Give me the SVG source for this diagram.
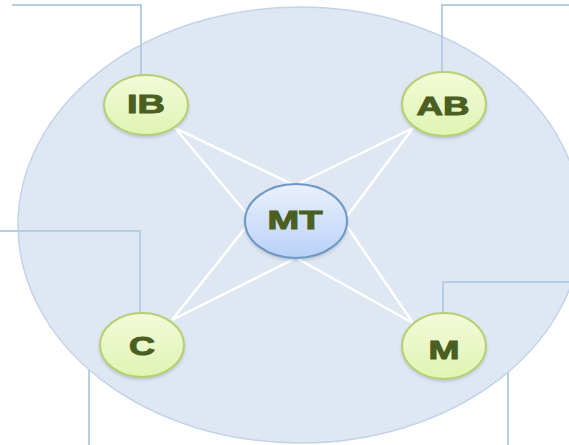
<svg xmlns="http://www.w3.org/2000/svg" width="569" height="445" viewBox="0 0 569 445">
<style>
.bg{fill:#dfe7f2;stroke:#c3d3e8;stroke-width:1.5}
.tie{fill:none;stroke:#b8cce4;stroke-width:2}
.spoke{fill:none;stroke:#ffffff;stroke-width:2.5}
.leaf{fill:url(#gLeaf);stroke:#b5cf72;stroke-width:2;filter:url(#sh)}
.hub{fill:url(#gHub);stroke:#6e98c8;stroke-width:2;filter:url(#sh)}
.lbl{font-family:"Liberation Sans",Arial,sans-serif;font-weight:bold;font-size:26px;fill:#4b5f23;stroke:#4b5f23;stroke-width:1;text-anchor:middle}
</style>
<defs>
<linearGradient id="gLeaf" x1="0" y1="0" x2="0" y2="1">
<stop offset="0" stop-color="#f3fad9"/>
<stop offset="1" stop-color="#e0f4b2"/>
</linearGradient>
<linearGradient id="gHub" x1="0" y1="0" x2="0" y2="1">
<stop offset="0" stop-color="#eaf1fd"/>
<stop offset="1" stop-color="#b9d1f6"/>
</linearGradient>
<filter id="sh" x="-20%" y="-20%" width="140%" height="150%">
<feDropShadow dx="0" dy="2" stdDeviation="1.5" flood-color="#7a8aa0" flood-opacity="0.35"/>
</filter>
</defs>
<ellipse class="bg" cx="300" cy="225" rx="282" ry="218"/>
<g id="connectors">
<path class="tie" d="M12,5 H141 V75"/>
<path class="tie" d="M569,5 H442 V72"/>
<path class="tie" d="M0,231 H140 V313"/>
<path class="tie" d="M89,370 V445"/>
<path class="tie" d="M443,313 V282 H569"/>
<path class="tie" d="M508,372 V445"/>
<path class="spoke" d="M175,128 L296,186 M175,128 L252,220"/>
<path class="spoke" d="M413,128 L300,183 M413,128 L345,219"/>
<path class="spoke" d="M172,320 L292,260 M172,320 L250,222"/>
<path class="spoke" d="M413,323 L298,259 M413,323 L344,222"/>
</g>
<g id="IB"><ellipse class="leaf" cx="146" cy="105" rx="42" ry="30"/><text class="lbl" x="146" y="113" textLength="38" lengthAdjust="spacingAndGlyphs">IB</text></g>
<g id="AB"><ellipse class="leaf" cx="444" cy="104" rx="42" ry="32"/><text class="lbl" x="443" y="115" textLength="53" lengthAdjust="spacingAndGlyphs">AB</text></g>
<g id="C"><ellipse class="leaf" cx="142" cy="345" rx="42" ry="32"/><text class="lbl" x="142" y="355" textLength="26" lengthAdjust="spacingAndGlyphs">C</text></g>
<g id="M"><ellipse class="leaf" cx="444" cy="346" rx="42" ry="33"/><text class="lbl" x="444" y="359" textLength="31" lengthAdjust="spacingAndGlyphs">M</text></g>
<g id="MT"><ellipse class="hub" cx="296" cy="221" rx="51" ry="37"/><text class="lbl" x="295" y="229" textLength="55" lengthAdjust="spacingAndGlyphs">MT</text></g>
</svg>
